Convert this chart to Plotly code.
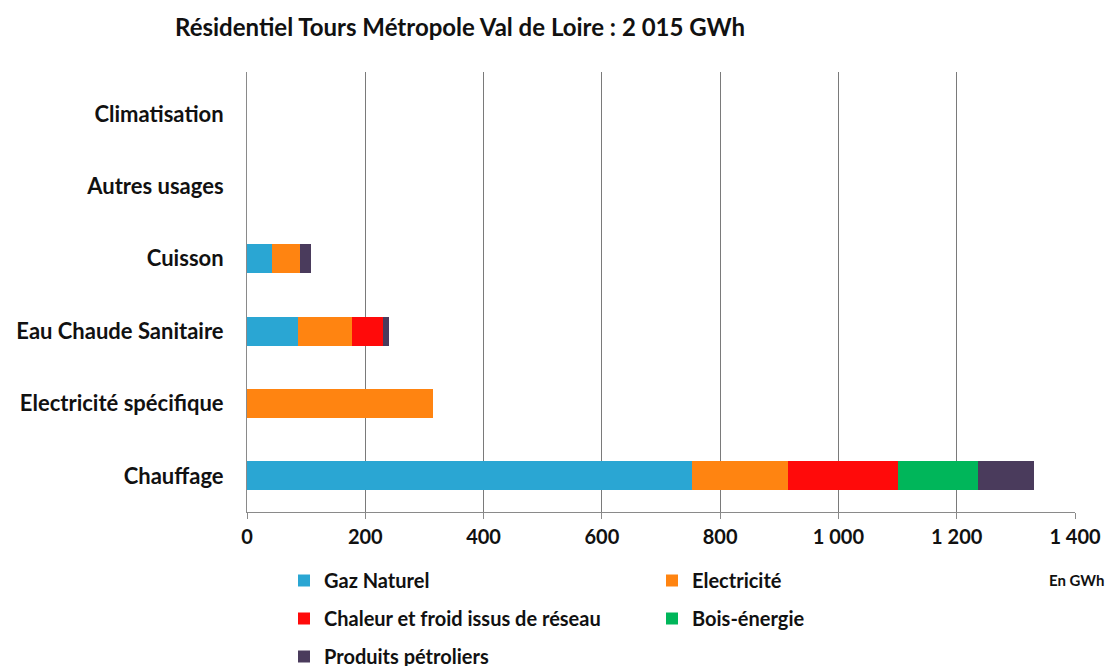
import plotly.graph_objects as go

# usages, de bas en haut
usages = ["Chauffage", "Electricité spécifique", "Eau Chaude Sanitaire",
          "Cuisson", "Autres usages", "Climatisation"]

# GWh par énergie
gaz_naturel = [752, 0, 86, 42, 0, 0]
electricite = [163, 314, 91, 47, 0, 0]
reseau = [186, 0, 53, 0, 0, 0]
bois = [135, 0, 0, 0, 0, 0]
petrole = [95, 0, 10, 19, 0, 0]

series = [
    ("Gaz Naturel", gaz_naturel, "#2AA6D3"),
    ("Electricité", electricite, "#FF8411"),
    ("Chaleur et froid issus de réseau", reseau, "#FF0A0A"),
    ("Bois-énergie", bois, "#00B65A"),
    ("Produits pétroliers", petrole, "#4A3B5C"),
]

tick_vals = [0, 200, 400, 600, 800, 1000, 1200, 1400]
tick_text = ["0", "200", "400", "600", "800", "1 000", "1 200", "1 400"]

font = "Lato"
top, bottom = 72, 512
ph = bottom - top

fig = go.Figure()
for name, vals, col in series:
    fig.add_trace(go.Bar(
        y=usages, x=vals, name=name, orientation="h", legendgroup=name,
        marker=dict(color=col, line=dict(width=0)),
        width=0.4,
    ))

fig.update_layout(
    barmode="stack",
    width=1120, height=666,
    margin=dict(l=247, r=45, t=top, b=666 - bottom, autoexpand=False),
    paper_bgcolor="white", plot_bgcolor="white",
    font=dict(family=font, size=21, color="#111", weight="bold"),
    title=dict(text="Résidentiel Tours Métropole Val de Loire : 2 015 GWh",
               x=175 / 1120, xanchor="left", y=1 - 28 / 666, yanchor="middle",
               font=dict(family=font, size=24, color="#111", weight="bold")),
    showlegend=True,
    legend=dict(orientation="h", x=(284 - 247) / 828, xanchor="left",
                y=-(561 - bottom) / ph, yanchor="top",
                entrywidth=323, entrywidthmode="pixels", tracegroupgap=9,
                font=dict(family=font, size=20, weight="bold"),
                itemwidth=30, traceorder="grouped"),
)

fig.update_xaxes(
    range=[0, 1400], tickvals=tick_vals, ticktext=tick_text,
    showgrid=True, gridcolor="#7a7a7a", gridwidth=1,
    showline=True, linecolor="#8a8a8a", linewidth=1,
    ticks="outside", ticklen=6, tickcolor="#8a8a8a",
    ticklabelstandoff=1,
    zeroline=False,
    tickfont=dict(family=font, size=20, weight="bold"),
)
fig.update_yaxes(
    range=[-0.50, 5.58],
    showline=True, linecolor="#8a8a8a", linewidth=1,
    showgrid=False, ticks="", ticklabelstandoff=18,
    tickfont=dict(family=font, size=22, weight="bold"),
)

fig.add_annotation(text="En GWh", xref="paper", yref="paper",
                   x=1 + 32 / 828, xanchor="right", y=-(580 - bottom) / ph,
                   yanchor="middle", showarrow=False,
                   font=dict(family=font, size=15, weight="bold", color="#111"))

fig.write_html("out.html", config={"displayModeBar": False},
               post_script="document.body.style.margin='0';")
